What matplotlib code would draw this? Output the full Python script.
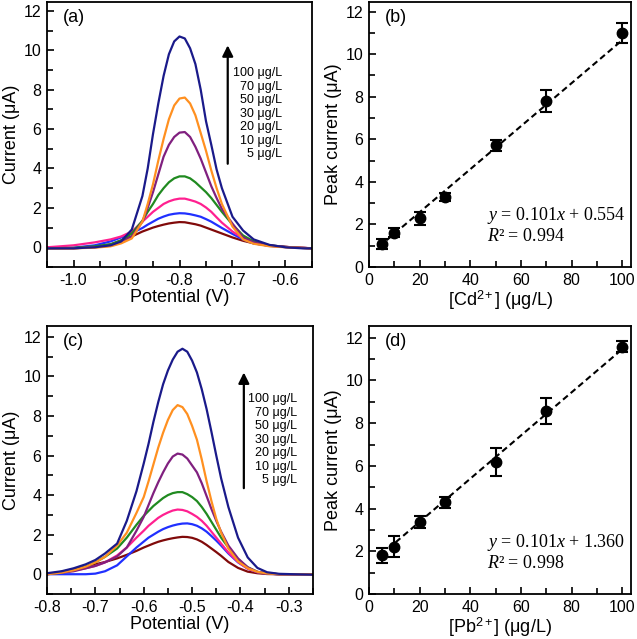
import matplotlib.pyplot as plt
import matplotlib.ticker as mticker

plt.rcParams['font.family'] = ['Liberation Sans', 'DejaVu Sans']
plt.rcParams['mathtext.fontset'] = 'custom'
plt.rcParams['mathtext.rm'] = 'Liberation Sans'
plt.rcParams['mathtext.it'] = 'Liberation Serif:italic'

# ---- data ----
conc_labels = ['100 μg/L', '70 μg/L', '50 μg/L', '30 μg/L', '20 μg/L', '10 μg/L', '5 μg/L']
colors = ['#1a1a8a', '#ff9020', '#80207f', '#208a20', '#ff2090', '#2030ff', '#800a0a']

# (a) Cd stripping curves
pot_a = [-1.05, -1.0, -0.96, -0.93, -0.91, -0.89,
         -0.87, -0.86, -0.85, -0.84, -0.83, -0.82, -0.81, -0.80,
         -0.79, -0.78, -0.77, -0.76, -0.75, -0.74, -0.73, -0.72,
         -0.70, -0.68, -0.66, -0.63, -0.60, -0.57, -0.55]
cd_100 = [-0.05, -0.05, 0.0, 0.1, 0.3, 0.9,
          2.6, 4.0, 5.75, 7.3, 8.7, 9.8, 10.45, 10.7,
          10.6, 10.1, 9.3, 8.0, 6.4, 5.2, 3.95, 3.0,
          1.55, 0.85, 0.4, 0.12, 0.0, -0.05, -0.05]
cd_70 = [-0.05, -0.05, -0.02, 0.05, 0.2, 0.45,
         1.3, 2.2, 3.2, 4.4, 5.5, 6.5, 7.2, 7.55,
         7.6, 7.3, 6.7, 5.8, 4.9, 3.9, 3.0, 2.2,
         1.05, 0.4, 0.18, 0.05, 0.0, -0.03, -0.05]
cd_50 = [-0.05, -0.05, 0.0, 0.08, 0.25, 0.55,
         1.3, 2.0, 2.8, 3.7, 4.6, 5.2, 5.6, 5.82,
         5.85, 5.6, 5.1, 4.5, 3.8, 3.1, 2.5, 1.95,
         1.2, 0.5, 0.25, 0.1, 0.02, -0.03, -0.05]
cd_30 = [-0.05, -0.03, 0.05, 0.15, 0.35, 0.7,
         1.35, 1.8, 2.2, 2.65, 3.0, 3.3, 3.5, 3.6,
         3.6, 3.5, 3.3, 3.05, 2.8, 2.5, 2.15, 1.8,
         1.15, 0.6, 0.3, 0.1, 0.02, -0.03, -0.05]
cd_20 = [0.0, 0.1, 0.25, 0.4, 0.55, 0.8,
         1.3, 1.55, 1.8, 2.0, 2.2, 2.33, 2.42, 2.47,
         2.47, 2.4, 2.32, 2.2, 2.02, 1.8, 1.52, 1.25,
         0.8, 0.45, 0.22, 0.08, 0.02, -0.02, -0.05]
cd_10 = [-0.05, -0.02, 0.1, 0.3, 0.5, 0.72,
         0.98, 1.15, 1.3, 1.45, 1.56, 1.65, 1.7, 1.73,
         1.72, 1.68, 1.62, 1.55, 1.43, 1.3, 1.14, 0.98,
         0.68, 0.4, 0.2, 0.07, 0.01, -0.03, -0.05]
cd_5 = [-0.05, -0.05, 0.02, 0.15, 0.35, 0.55,
        0.8, 0.9, 1.0, 1.08, 1.15, 1.21, 1.25, 1.28,
        1.27, 1.22, 1.17, 1.1, 1.0, 0.9, 0.8, 0.7,
        0.5, 0.33, 0.2, 0.08, 0.02, -0.03, -0.05]

# (c) Pb stripping curves
pot_c = [-0.80, -0.77, -0.745, -0.72, -0.70, -0.68, -0.655, -0.635, -0.615,
         -0.60, -0.59, -0.58, -0.57, -0.56, -0.55, -0.54, -0.53, -0.52,
         -0.51, -0.50, -0.49, -0.48, -0.47, -0.46, -0.45, -0.44,
         -0.425, -0.405, -0.385, -0.365, -0.345, -0.32, -0.29, -0.25]
pb_100 = [0.05, 0.15, 0.3, 0.5, 0.72, 1.05, 1.55, 2.7, 4.2,
          5.6, 6.6, 7.7, 8.7, 9.6, 10.3, 10.85, 11.25, 11.4,
          11.25, 10.8, 10.2, 9.35, 8.35, 7.2, 6.0, 4.85,
          3.4, 1.85, 0.85, 0.32, 0.1, 0.02, 0.0, -0.02]
pb_70 = [0.0, 0.08, 0.2, 0.38, 0.6, 0.88, 1.45, 2.1, 3.1,
         3.9, 4.7, 5.55, 6.4, 7.15, 7.8, 8.3, 8.55, 8.45,
         8.1, 7.5, 6.8, 5.8, 4.7, 3.7, 2.8, 2.1,
         1.3, 0.65, 0.3, 0.12, 0.04, 0.0, 0.0, 0.0]
pb_50 = [0.0, 0.08, 0.15, 0.3, 0.42, 0.6, 0.9, 1.35, 2.2,
         2.9, 3.5, 4.1, 4.65, 5.15, 5.6, 5.95, 6.1, 6.05,
         5.85, 5.5, 5.15, 4.6, 3.95, 3.3, 2.7, 2.15,
         1.45, 0.8, 0.35, 0.12, 0.04, 0.0, 0.0, 0.0]
pb_30 = [0.0, 0.08, 0.2, 0.38, 0.6, 0.88, 1.3, 1.85, 2.5,
         2.95, 3.2, 3.45, 3.65, 3.85, 4.0, 4.1, 4.15, 4.15,
         4.05, 3.9, 3.7, 3.4, 3.05, 2.65, 2.25, 1.85,
         1.35, 0.75, 0.35, 0.12, 0.04, 0.0, 0.0, 0.0]
pb_20 = [0.0, 0.1, 0.18, 0.3, 0.42, 0.6, 0.95, 1.35, 1.85,
         2.2, 2.45, 2.65, 2.85, 3.0, 3.12, 3.22, 3.27, 3.25,
         3.18, 3.05, 2.9, 2.7, 2.45, 2.15, 1.85, 1.55,
         1.1, 0.62, 0.28, 0.1, 0.03, 0.0, 0.0, 0.0]
pb_10 = [0.0, 0.0, 0.0, 0.0, 0.03, 0.15, 0.45, 0.9, 1.35,
         1.65, 1.85, 2.0, 2.15, 2.28, 2.38, 2.46, 2.52, 2.56,
         2.57, 2.53, 2.45, 2.32, 2.15, 1.93, 1.7, 1.45,
         1.05, 0.6, 0.28, 0.1, 0.03, 0.0, 0.0, 0.0]
pb_5 = [0.0, 0.12, 0.25, 0.38, 0.5, 0.62, 0.8, 0.98, 1.18,
        1.35, 1.45, 1.55, 1.64, 1.71, 1.77, 1.82, 1.86, 1.89,
        1.88, 1.84, 1.76, 1.64, 1.48, 1.3, 1.12, 0.93,
        0.62, 0.32, 0.13, 0.05, 0.01, 0.0, 0.0, 0.0]

# (b), (d) calibration
conc = [5, 10, 20, 30, 50, 70, 100]
cd_peak = [1.08, 1.62, 2.28, 3.3, 5.72, 7.8, 10.99]
cd_err = [0.22, 0.2, 0.3, 0.18, 0.26, 0.5, 0.45]
pb_peak = [1.81, 2.22, 3.38, 4.3, 6.18, 8.57, 11.58]
pb_err = [0.35, 0.5, 0.27, 0.26, 0.65, 0.6, 0.27]
cd_fit = (0.101, 0.554)
pb_fit = (0.101, 1.360)

W, H = 637, 639
fig = plt.figure(figsize=(W / 100, H / 100), dpi=100)


def add_ax(l, r, t, b):
    return fig.add_axes([l / W, 1 - b / H, (r - l) / W, (b - t) / H])


def style(ax):
    for s in ax.spines.values():
        s.set_linewidth(1.3)
    ax.tick_params(which='both', direction='in', top=False, right=False,
                   labelsize=11.5, width=1.2, pad=4)
    ax.tick_params(which='major', length=5)
    ax.tick_params(which='minor', length=4)


def curves_panel(ax, pot, series, tag, xlim, ylim, arrow_x, arrow_y, lab_x, lab_y0):
    for y, c in zip(series[::-1], colors[::-1]):
        ax.plot(pot, y, color=c, lw=1.6)
    ax.set_xlim(*xlim)
    ax.set_ylim(*ylim)
    ax.xaxis.set_major_locator(mticker.MultipleLocator(0.1))
    ax.xaxis.set_minor_locator(mticker.MultipleLocator(0.05))
    ax.xaxis.set_major_formatter(mticker.FormatStrFormatter('%.1f'))
    ax.yaxis.set_major_locator(mticker.MultipleLocator(2))
    ax.yaxis.set_minor_locator(mticker.MultipleLocator(1))
    ax.set_xlabel('Potential (V)', fontsize=13, labelpad=1)
    ax.set_ylabel('Current (μA)', fontsize=13, labelpad=3)
    ax.text(0.06, 0.975, tag, transform=ax.transAxes, fontsize=13, va='top')
    ax.annotate('', xy=(arrow_x, arrow_y[1]), xytext=(arrow_x, arrow_y[0]),
                arrowprops=dict(arrowstyle='-|>', lw=1.6, color='black',
                                mutation_scale=16, shrinkA=0, shrinkB=0))
    for i, lab in enumerate(conc_labels):
        ax.text(lab_x, lab_y0 - i * 0.684, lab, ha='right', va='center', fontsize=9)
    style(ax)


def calib_panel(ax, peak, err, fit, tag, xlab, fit_x0, eq_text, r2_text, ytop):
    xs = [fit_x0, conc[-1]]
    ax.plot(xs, [fit[0] * v + fit[1] for v in xs], color='black', lw=1.5, ls=(0, (3, 1.8)))
    ax.errorbar(conc, peak, yerr=err, fmt='o', color='black', ms=7.5,
                capsize=4, elinewidth=1.5, capthick=1.5)
    ax.set_xlim(0, 103.5)
    ax.set_ylim(0, ytop)
    ax.xaxis.set_major_locator(mticker.MultipleLocator(20))
    ax.xaxis.set_minor_locator(mticker.MultipleLocator(10))
    ax.yaxis.set_major_locator(mticker.MultipleLocator(2))
    ax.yaxis.set_minor_locator(mticker.MultipleLocator(1))
    ax.set_xlabel(xlab, fontsize=13, labelpad=1)
    ax.set_ylabel('Peak current (μA)', fontsize=13, labelpad=3)
    ax.text(0.06, 0.975, tag, transform=ax.transAxes, fontsize=13, va='top')
    ax.text(46.5, 2.4, eq_text, fontsize=13, va='center', family='Liberation Serif')
    ax.text(46.5, 1.44, r2_text, fontsize=13, va='center', family='Liberation Serif')
    style(ax)


ax_a = add_ax(47, 312, 2, 267)
curves_panel(ax_a, pot_a, [cd_100, cd_70, cd_50, cd_30, cd_20, cd_10, cd_5], '(a)',
             (-1.05, -0.55), (-1, 12.45), -0.709, (4.24, 10.25), -0.607, 8.83)

ax_b = add_ax(369, 631, 2, 267)
calib_panel(ax_b, cd_peak, cd_err, cd_fit, '(b)', '[Cd$^{2+}$] (μg/L)', 7,
            '$y$ = 0.101$x$ + 0.554', '$R$² = 0.994', 12.45)

ax_c = add_ax(47, 313, 326, 594)
curves_panel(ax_c, pot_c, [pb_100, pb_70, pb_50, pb_30, pb_20, pb_10, pb_5], '(c)',
             (-0.8, -0.25), (-1, 12.55), -0.393, (4.35, 10.2), -0.283, 8.86)

ax_d = add_ax(369, 631, 326, 594)
calib_panel(ax_d, pb_peak, pb_err, pb_fit, '(d)', '[Pb$^{2+}$] (μg/L)', 10.5,
            '$y$ = 0.101$x$ + 1.360', '$R$² = 0.998', 12.55)

fig.savefig('out.png', dpi=100)
